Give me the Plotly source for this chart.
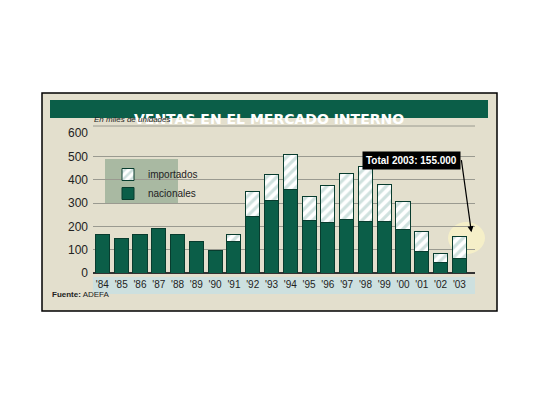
import plotly.graph_objects as go

years = ["'84","'85","'86","'87","'88","'89","'90","'91","'92","'93","'94","'95","'96","'97","'98","'99","'00","'01","'02","'03"]
nacionales = [165,147,167,192,163,133,97,137,243,312,360,226,215,228,222,222,188,93,47,63]
totales = [165,147,167,192,163,133,97,165,350,422,508,328,376,427,456,380,307,177,83,155]
importados = [t-n for t, n in zip(totales, nacionales)]

W, H = 524, 389
def px(x): return (x - 8) / W
def py(y): return 1 - (y - 8) / H

GREEN = "#0b5e48"
BG = "#e3dfcd"

fig = go.Figure()
fig.add_bar(x=years, y=nacionales, name="nacionales", marker=dict(color=GREEN, line=dict(color="#083c2e", width=1)))
fig.add_bar(x=years, y=importados, name="importados",
            marker=dict(color="white", line=dict(color="#083c2e", width=1),
                        pattern=dict(shape="/", fgcolor="#9fc3bd", bgcolor="white", size=7, solidity=0.45)))

shapes = [
    dict(type="rect", xref="paper", yref="paper", x0=px(42), x1=px(497), y0=py(311), y1=py(93),
         fillcolor=BG, line=dict(color="black", width=1.5), layer="below"),
    dict(type="rect", xref="paper", yref="paper", x0=px(50), x1=px(488), y0=py(118), y1=py(100),
         fillcolor=GREEN, line=dict(width=0), layer="below"),
    dict(type="rect", xref="paper", yref="paper", x0=px(93), x1=px(475), y0=py(294), y1=py(277),
         fillcolor="#cde0df", line=dict(width=0), layer="below"),
    dict(type="rect", xref="paper", yref="paper", x0=px(105), x1=px(178), y0=py(203), y1=py(159),
         fillcolor="#a9b9a2", line=dict(width=0), layer="below"),
    dict(type="circle", xref="paper", yref="paper", x0=px(448), x1=px(485), y0=py(254), y1=py(222),
         fillcolor="#f5efc8", line=dict(width=0), layer="below"),
    dict(type="line", xref="paper", yref="paper", x0=px(93), x1=px(475), y0=py(126), y1=py(126),
         line=dict(color="#9a9a90", width=1)),
]

annotations = [
    dict(text="<b>VENTAS EN EL MERCADO INTERNO</b>", xref="paper", yref="paper", x=px(269), y=py(109),
         showarrow=False, font=dict(family="DejaVu Sans", size=14, color="white")),
    dict(text="<i>En miles de unidades</i>", xref="paper", yref="paper", x=px(92), y=py(126),
         xanchor="left", yanchor="bottom", showarrow=False, font=dict(family="Liberation Sans", size=8, color="#222")),
    dict(text="<b>Fuente:</b> ADEFA", xref="paper", yref="paper", x=px(50), y=py(301),
         xanchor="left", showarrow=False, font=dict(family="Liberation Sans", size=8, color="#222")),
    dict(text="<b>Total 2003: 155.000</b>", x="'03", y=175, ay=-72,
         showarrow=True, arrowhead=2, arrowsize=1, arrowwidth=1.2, arrowcolor="black",
         bgcolor="black", font=dict(family="Liberation Sans", size=10, color="white"),
         xanchor="right", xshift=12, borderpad=3),
]

fig.update_layout(
    width=W, height=H, margin=dict(l=0, r=0, t=0, b=0),
    paper_bgcolor="rgba(0,0,0,0)", plot_bgcolor=BG, barmode="stack", bargap=0.25,
    shapes=shapes, annotations=annotations,
    legend=dict(x=px(108), y=py(160), xanchor="left", yanchor="top", bgcolor="rgba(0,0,0,0)",
                font=dict(family="Liberation Sans", size=10, color="#222"), traceorder="reversed",
                itemwidth=30, tracegroupgap=6),
    xaxis=dict(domain=[px(93), px(475)], tickfont=dict(family="Liberation Sans", size=10, color="#222"),
               ticks="", showline=False, ticklabelstandoff=4, automargin=False),
    yaxis=dict(domain=[py(273), py(133)], range=[0, 600], dtick=100, gridcolor="#9a9a90",
               tickfont=dict(family="Liberation Sans", size=12, color="#222"), zeroline=True,
               zerolinecolor="#333", ticklabelstandoff=4, automargin=False),
    showlegend=True,
)
fig.write_html("out.html")
